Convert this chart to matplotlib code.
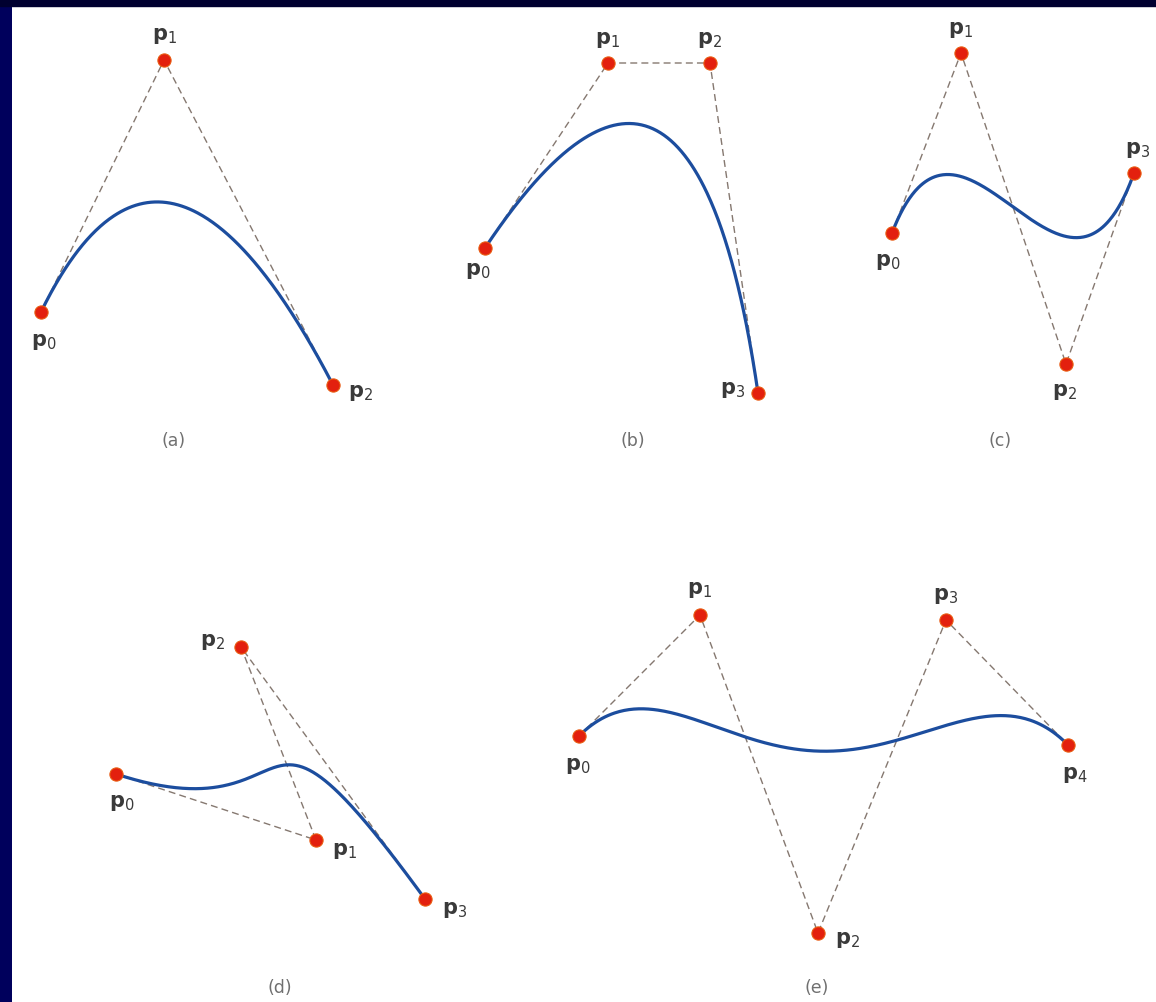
import numpy as np
import matplotlib.pyplot as plt
from math import comb

plt.rcParams['mathtext.fontset'] = 'dejavusans'

# control points of each panel (pixel coordinates of the scanned figure)
a_x = [41, 164, 333]
a_y = [312, 60, 385]
b_x = [485, 608, 710, 758]
b_y = [248, 63, 63, 393]
c_x = [892, 961, 1066, 1134]
c_y = [233, 53, 364, 173]
d_x = [116, 316, 241, 425]
d_y = [774, 840, 647, 899]
e_x = [579, 700, 818, 946, 1068]
e_y = [736, 615, 933, 620, 745]

# label positions for each control point
a_lab = [(44, 342), (165, 36), (361, 393)]
b_lab = [(478, 271), (608, 40), (710, 40), (733, 390)]
c_lab = [(888, 262), (961, 30), (1065, 392), (1138, 150)]
d_lab = [(122, 803), (345, 851), (213, 642), (455, 910)]
e_lab = [(578, 766), (700, 590), (848, 940), (946, 596), (1075, 775)]

captions = ['(a)', '(b)', '(c)', '(d)', '(e)']
cap_pos = [(174, 441), (633, 441), (1000, 441), (280, 988), (817, 988)]


def bezier(xs, ys, n=300):
    t = np.linspace(0, 1, n)
    deg = len(xs) - 1
    bx = np.zeros(n)
    by = np.zeros(n)
    for i in range(deg + 1):
        w = comb(deg, i) * t**i * (1 - t)**(deg - i)
        bx += w * xs[i]
        by += w * ys[i]
    return bx, by


fig = plt.figure(figsize=(11.56, 10.02), dpi=100, facecolor='#00005c')
# dark strip on top
fig.patches.append(plt.Rectangle((0, 1 - 6 / 1002), 1, 6 / 1002,
                                 transform=fig.transFigure, color='#000030', zorder=0))
ax = fig.add_axes([12 / 1156, 0, 1 - 12 / 1156, 996 / 1002])
ax.set_xlim(12, 1156)
ax.set_ylim(1002, 6)
ax.set_facecolor('white')
ax.set_xticks([])
ax.set_yticks([])
for s in ax.spines.values():
    s.set_visible(False)

panels = [(a_x, a_y, a_lab), (b_x, b_y, b_lab), (c_x, c_y, c_lab),
          (d_x, d_y, d_lab), (e_x, e_y, e_lab)]

for xs, ys, labs in panels:
    # control polygon
    ax.plot(xs, ys, color='#857870', lw=1.0, dashes=(5, 3), zorder=1)
    # curve
    bx, by = bezier(xs, ys)
    ax.plot(bx, by, color='#1c4d9e', lw=2.3, solid_capstyle='round', zorder=2)
    # control points
    ax.plot(xs, ys, 'o', ms=9.5, color='#e3200e', mec='#e85a10', mew=0.8, zorder=3)
    for k, (lx, ly) in enumerate(labs):
        ax.text(lx, ly, r'$\mathbf{p}_{%d}$' % k, fontsize=15, color='#3a3a3a',
                ha='center', va='center', zorder=4)

for cap, (cx, cy) in zip(captions, cap_pos):
    ax.text(cx, cy, cap, fontsize=12.5, color='#707070', ha='center', va='center')

fig.savefig('out.png', dpi=100, facecolor=fig.get_facecolor())
